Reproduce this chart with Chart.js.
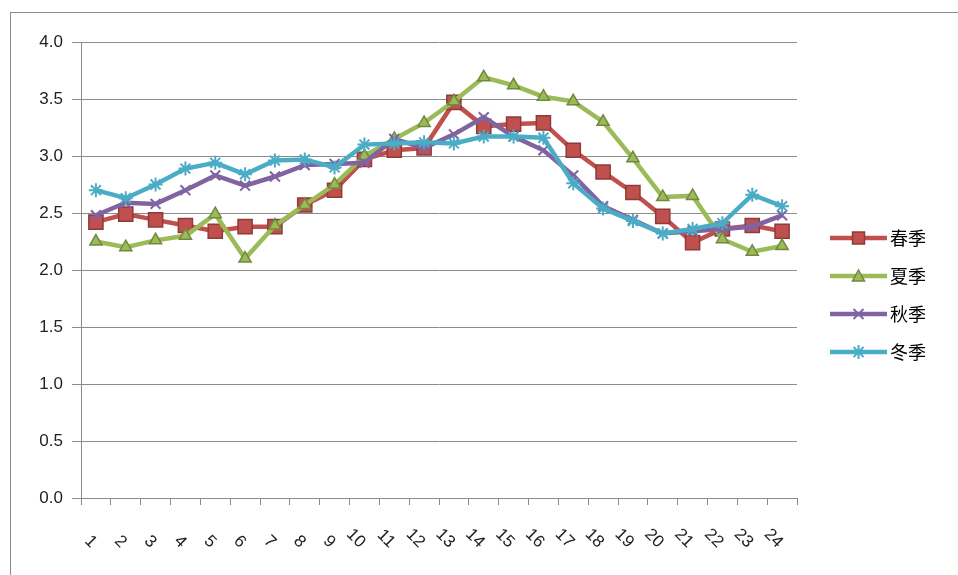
<!DOCTYPE html>
<html>
<head>
<meta charset="utf-8">
<script src="https://cdn.jsdelivr.net/npm/chart.js@4.4.0/dist/chart.umd.min.js"></script>
<style>
  html, body { margin: 0; padding: 0; background: #fff; overflow: hidden; }
  #frame {
    position: absolute; left: 10px; top: 12px;
    width: 960px; height: 580px;
    border-left: 1px solid #8a8a8a; border-top: 1px solid #8a8a8a;
  }
  #wrap { position: absolute; left: 0; top: 0; width: 947px; height: 562px; }
</style>
</head>
<body>
<div id="frame"><div id="wrap"><canvas id="myChart"></canvas></div></div>
<script>
    "use strict";

    // hours of the day
    const hours = ['1','2','3','4','5','6','7','8','9','10','11','12','13','14','15','16','17','18','19','20','21','22','23','24'];
    const yTicks = [0, 0.5, 1, 1.5, 2, 2.5, 3, 3.5, 4];

    const seriesNames = ['春季', '夏季', '秋季', '冬季'];
    const spring = [2.42, 2.49, 2.44, 2.39, 2.34, 2.38, 2.38, 2.57, 2.70, 2.97, 3.05, 3.07, 3.47, 3.26, 3.28, 3.29, 3.05, 2.86, 2.68, 2.47, 2.24, 2.36, 2.39, 2.34];
    const summer = [2.25, 2.20, 2.26, 2.30, 2.49, 2.10, 2.39, 2.57, 2.75, 3.00, 3.15, 3.29, 3.48, 3.69, 3.62, 3.52, 3.48, 3.30, 2.98, 2.64, 2.65, 2.27, 2.16, 2.21];
    const autumn = [2.48, 2.59, 2.58, 2.70, 2.83, 2.74, 2.82, 2.92, 2.93, 2.94, 3.15, 3.07, 3.19, 3.34, 3.17, 3.05, 2.83, 2.56, 2.44, 2.32, 2.34, 2.36, 2.38, 2.48];
    const winter = [2.70, 2.63, 2.75, 2.89, 2.94, 2.84, 2.96, 2.97, 2.90, 3.10, 3.11, 3.12, 3.11, 3.17, 3.17, 3.16, 2.76, 2.54, 2.43, 2.32, 2.36, 2.41, 2.66, 2.56];

    const colors = ['#C0504D', '#9BBB59', '#8064A2', '#4BACC6'];
    const borders = ['#8E3B39', '#71893F', '#8064A2', '#4BACC6'];
    const styles = ['rect', 'triangle', 'crossRot', 'star'];
    const radii = [10, 7, 7, 7];

    // small picture of line + marker for the legend
    function legendIcon(i) {
        const c = document.createElement('canvas');
        c.width = 80; c.height = 24;
        const g = c.getContext('2d');
        g.strokeStyle = colors[i];
        g.lineWidth = 4.5;
        g.beginPath(); g.moveTo(21, 12); g.lineTo(78, 12); g.stroke();
        const cx = 49.5, cy = 12;
        g.fillStyle = colors[i];
        g.strokeStyle = borders[i];
        g.lineWidth = 1.5;
        if (i === 0) {
            g.fillRect(cx - 6, cy - 6, 12, 12);
            g.strokeRect(cx - 6, cy - 6, 12, 12);
        } else if (i === 1) {
            g.beginPath(); g.moveTo(cx, cy - 6); g.lineTo(cx + 6, cy + 5); g.lineTo(cx - 6, cy + 5); g.closePath();
            g.fill(); g.stroke();
        } else {
            g.lineWidth = 2;
            g.beginPath();
            g.moveTo(cx - 5, cy - 5); g.lineTo(cx + 5, cy + 5);
            g.moveTo(cx + 5, cy - 5); g.lineTo(cx - 5, cy + 5);
            if (i === 3) { g.moveTo(cx, cy - 7); g.lineTo(cx, cy + 7); }
            g.stroke();
        }
        return c;
    }

    // x labels turned 45deg downward, as in the source
    const xLabelPlugin = {
        id: 'xLabels',
        afterDraw(chart) {
            const xs = chart.scales.x;
            const ctx = chart.ctx;
            const y = chart.chartArea.bottom + 47;
            ctx.save();
            ctx.font = '17px "Liberation Sans", Arial, sans-serif';
            ctx.fillStyle = '#222';
            ctx.textAlign = 'right';
            ctx.textBaseline = 'middle';
            hours.forEach((h, i) => {
                const px = xs.getPixelForValue(i) - 2;
                ctx.save();
                ctx.translate(px, y);
                ctx.rotate(Math.PI / 4);
                ctx.fillText(h, 0, 0);
                ctx.restore();
            });
            ctx.restore();
        }
    };

    const allData = [spring, summer, autumn, winter];

    const ctx = document.getElementById('myChart').getContext('2d');
    const chart = new Chart(ctx, {
        type: 'line',
        data: {
            labels: hours,
            datasets: allData.map((d, i) => ({
                label: seriesNames[i],
                data: d,
                borderColor: colors[i],
                backgroundColor: colors[i],
                pointBackgroundColor: colors[i],
                pointBorderColor: borders[i],
                pointBorderWidth: i < 2 ? 1.5 : 2,
                pointStyle: styles[i],
                pointRadius: radii[i],
                pointHoverRadius: radii[i],
                borderWidth: 4.5,
                tension: 0,
                fill: false,
                order: 4 - i
            }))
        },
        options: {
            responsive: true,
            maintainAspectRatio: false,
            animation: false,
            layout: { padding: { top: 29, left: 0, right: 22, bottom: 27 } },
            scales: {
                x: {
                    offset: true,
                    grid: { offset: true, drawOnChartArea: false, drawTicks: true, tickLength: 7, color: '#8a8a8a' },
                    border: { display: true, color: '#8a8a8a', width: 1 },
                    ticks: { display: false },
                    afterFit(scale) { scale.height = 50; }
                },
                y: {
                    min: 0,
                    max: 4,
                    afterBuildTicks(scale) { scale.ticks = yTicks.map(v => ({ value: v })); },
                    grid: { color: '#8c8c8c', tickLength: 9, lineWidth: 1 },
                    border: { display: true, color: '#8a8a8a', width: 1 },
                    ticks: {
                        padding: 9,
                        color: '#222',
                        font: { family: '"Liberation Sans", Arial, sans-serif', size: 17 },
                        callback: v => v.toFixed(1)
                    },
                    afterFit(scale) { scale.width = 70; }
                }
            },
            plugins: {
                tooltip: { enabled: false },
                legend: {
                    position: 'right',
                    labels: {
                        usePointStyle: true,
                        pointStyleWidth: 64,
                        padding: 20,
                        color: '#000',
                        font: { family: '"Noto Sans CJK SC", sans-serif', size: 18 },
                        generateLabels(chart) {
                            const items = Chart.defaults.plugins.legend.labels.generateLabels(chart);
                            items.forEach(it => { it.pointStyle = legendIcon(it.datasetIndex); });
                            return items.sort((a, b) => a.datasetIndex - b.datasetIndex);
                        }
                    }
                }
            }
        },
        plugins: [xLabelPlugin]
    });
</script>
</body>
</html>
